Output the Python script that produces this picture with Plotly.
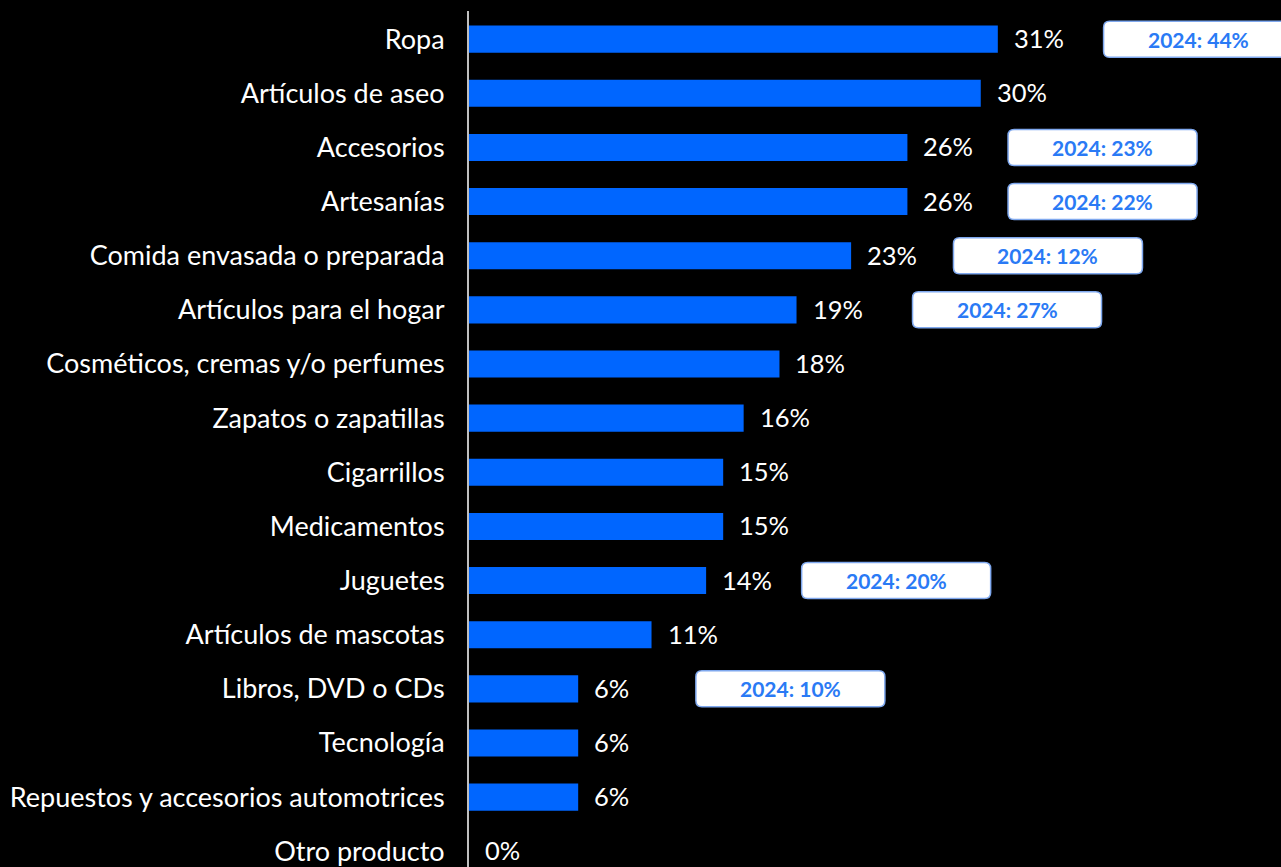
import plotly.graph_objects as go

categories = ["Ropa", "Artículos de aseo", "Accesorios", "Artesanías",
              "Comida envasada o preparada", "Artículos para el hogar",
              "Cosméticos, cremas y/o perfumes", "Zapatos o zapatillas",
              "Cigarrillos", "Medicamentos", "Juguetes", "Artículos de mascotas",
              "Libros, DVD o CDs", "Tecnología",
              "Repuestos y accesorios automotrices", "Otro producto"]
values = [31.0, 30.0, 25.7, 25.7, 22.4, 19.2, 18.2, 16.1, 14.9, 14.9, 13.9,
          10.7, 6.4, 6.4, 6.4, 0.0]
value_labels = ["31%", "30%", "26%", "26%", "23%", "19%", "18%", "16%", "15%",
                "15%", "14%", "11%", "6%", "6%", "6%", "0%"]
prev_categories = ["Ropa", "Accesorios", "Artesanías",
                   "Comida envasada o preparada", "Artículos para el hogar",
                   "Juguetes", "Libros, DVD o CDs"]
prev_labels = ["2024: 44%", "2024: 23%", "2024: 22%", "2024: 12%",
               "2024: 27%", "2024: 20%", "2024: 10%"]

# layout of the comparison boxes (left edge, in axis units)
box_left = [37.2, 31.6, 31.6, 28.4, 26.0, 19.5, 13.3]
BOX_W, BOX_H, R = 189, 36, 6

BAR = "#0066FF"
fig = go.Figure(go.Bar(
    x=values, y=categories, orientation="h",
    marker=dict(color=BAR, line=dict(width=0)),
    hoverinfo="skip",
))

ann = []
for v, lab, c in zip(values, value_labels, categories):
    ann.append(dict(x=v, y=c, xref="x", yref="y", text=lab, showarrow=False,
                    xanchor="left", yanchor="middle", xshift=14, yshift=1,
                    font=dict(family="Lato", size=25.5, color="#ffffff")))

shapes = []
for bx, lab, c in zip(box_left, prev_labels, prev_categories):
    w, h, r = BOX_W, BOX_H / 2, R
    path = (f"M {r},{-h} L {w - r},{-h} Q {w},{-h} {w},{-h + r} "
            f"L {w},{h - r} Q {w},{h} {w - r},{h} L {r},{h} Q 0,{h} 0,{h - r} "
            f"L 0,{-h + r} Q 0,{-h} {r},{-h} Z")
    shapes.append(dict(type="path", xref="x", yref="y", xsizemode="pixel",
                       ysizemode="pixel", xanchor=bx, yanchor=c, path=path,
                       fillcolor="#ffffff", line=dict(color="#7fa8ee", width=1.5),
                       layer="above"))
    ann.append(dict(x=bx, y=c, xref="x", yref="y", text=f"<b>{lab}</b>",
                    showarrow=False, xanchor="center", yanchor="middle",
                    xshift=BOX_W / 2, font=dict(family="Lato", size=21,
                                                color="#2a7af5")))

fig.update_layout(
    width=1281, height=867,
    paper_bgcolor="#000000", plot_bgcolor="#000000",
    margin=dict(l=469, r=0, t=11, b=0),
    bargap=0.5, showlegend=False,
    xaxis=dict(range=[0, 47.6], visible=False, fixedrange=True),
    yaxis=dict(categoryorder="array", categoryarray=categories,
               range=[15.29, -0.52], showgrid=False, zeroline=False,
               showline=True, linecolor="#bfbfbf", linewidth=2,
               ticks="", ticklabelstandoff=17, fixedrange=True,
               tickfont=dict(family="Lato", size=27, color="#ffffff")),
    annotations=ann, shapes=shapes,
)
fig.write_html("out.html", config={"displayModeBar": False})

with open("out.html", encoding="utf-8") as f:
    html = f.read()
html = html.replace("<head>", "<head><style>html,body{margin:0;padding:0;"
                    "background:#000;overflow:hidden;}</style>", 1)
with open("out.html", "w", encoding="utf-8") as f:
    f.write(html)
